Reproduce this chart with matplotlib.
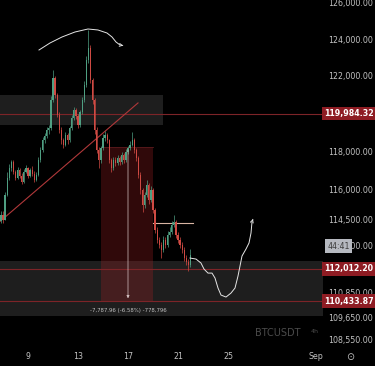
import matplotlib
matplotlib.use("Agg")
import matplotlib.pyplot as plt
import matplotlib.transforms as mtransforms
from matplotlib.ticker import NullLocator
import numpy as np

# 4h candles, x = day of August (Sep 1 -> 32)
start_day = 6.8333
first_open = 114400
closes = [114740, 114490, 115760, 116630, 117140, 117450, 116940, 116630, 117040, 116730,
          116420, 116940, 117140, 116730, 117040, 116830, 116520, 116780, 117560, 118080,
          118590, 118800, 119120, 119220, 120710, 121890, 120970, 119910, 119120, 118590,
          118330, 118850, 118590, 119220, 119760, 120180, 119860, 119380, 120070, 120710,
          121510, 122860, 123520, 121780, 120710, 119120, 118080, 117560, 118180, 118700,
          118850, 118590, 117560, 117140, 117560, 117400, 117660, 117450, 117820, 117560,
          117970, 118180, 118330, 118590, 118080, 117660, 116780, 116010, 115250, 115760,
          116270, 115500, 116010, 114990, 113980, 113480, 113230, 112980, 113480, 113230,
          113730, 113880, 114230, 114390, 113730, 113480, 113230, 112980, 112580, 112380,
          112190, 112730]
highs = [114900, 114900, 115900, 116900, 117350, 117560, 117520, 117050, 117200, 117150,
         116850, 117100, 117300, 117200, 117150, 117250, 116950, 116900, 117700, 118200,
         118750, 118950, 119300, 119400, 120900, 122320, 122000, 121100, 120050, 119250,
         118700, 119000, 118950, 119350, 119900, 120350, 120300, 119950, 120200, 120850,
         121700, 123100, 124500, 123700, 121900, 120800, 119250, 118200, 118300, 118900,
         119050, 118950, 118650, 117650, 117700, 117700, 117800, 117750, 117950, 117900,
         118100, 118300, 118550, 119010, 118700, 118150, 117750, 116900, 116100, 115900,
         116500, 116350, 116200, 116100, 115100, 114100, 113600, 113350, 113650, 113600,
         113900, 114100, 114400, 114740, 114450, 113850, 113600, 113350, 113100, 112700,
         112500, 113000]
lows = [114300, 114290, 114450, 115700, 116500, 117000, 116800, 116500, 116550, 116600,
        116300, 116350, 116850, 116600, 116650, 116700, 116400, 116450, 116700, 117450,
        117950, 118450, 118700, 118900, 119100, 120600, 120800, 119800, 118950, 118400,
        118150, 118250, 118400, 118500, 119100, 119650, 119700, 119200, 119300, 119950,
        120600, 121400, 122700, 121600, 120500, 118900, 117900, 117140, 117400, 118050,
        118550, 118450, 117400, 116940, 117050, 117250, 117300, 117300, 117350, 117400,
        117450, 117850, 118050, 118250, 117900, 117500, 116600, 115800, 114890, 115100,
        115650, 115300, 115400, 114800, 113800, 113300, 113050, 112580, 112850, 113050,
        113100, 113600, 113750, 114100, 113550, 113300, 113050, 112800, 112400, 112200,
        111890, 112100]

# price levels and drawings
level_lines = [119984.32, 112012.20, 110433.87]
upper_zone = (6.5, 19.8, 119380, 121000)
lower_zone = (6.5, 33.0, 109700, 112384)
short_box = (14.84, 19.0, 110433.87, 118221.83)
measure_day = 17.0
measure_text = "-7,787.96 (-6.58%) -778,796"
trend_days = [6.5, 17.8]
trend_prices = [114250, 120550]
flat_days = [19.0, 22.2]
flat_price = 114330
arc_days = [9.88, 10.76, 11.72, 12.76, 13.80, 14.60, 15.32, 15.72, 16.04, 16.36, 16.84]
arc_prices = [123407, 123790, 124119, 124394, 124559, 124504, 124338, 124119, 123845, 123680, 123625]
path_days = [21.96, 22.44, 22.84, 23.08, 23.40, 23.72, 23.96, 24.20, 24.44, 24.84, 25.24,
             25.56, 25.80, 25.96, 26.12, 26.44, 26.68, 26.84, 26.92, 27.0]
path_prices = [112556, 112505, 112306, 112008, 111809, 111809, 111565, 111072, 110728, 110630,
               110826, 111072, 111663, 112159, 112657, 113006, 113306, 113808, 114365, 114520]

ytick_vals = [126000, 124000, 122000, 118000, 116000, 114500, 113200, 110850, 109650, 108550]
xtick_vals = [9, 13, 17, 21, 25, 32]
xtick_labels = ["9", "13", "17", "21", "25", "Sep"]

UP = "#4f9f82"
DOWN = "#cf4a43"
TXT = "#c2c2c2"

fig = plt.figure(figsize=(3.75, 3.66), dpi=100, facecolor="black")
ax = fig.add_axes([0, 20 / 366, 322 / 375, 346 / 366])
ax.set_facecolor("black")
ax.set_yscale("log")
ax.set_ylim(108260, 126167)
ax.set_xlim(6.76, 32.52)

# zones
ax.fill_between(upper_zone[:2], upper_zone[2], upper_zone[3], color="#1e1e1e", lw=0, zorder=0)
ax.fill_between(lower_zone[:2], lower_zone[2], lower_zone[3], color="#1e1e1e", lw=0, zorder=0)
ax.fill_between(short_box[:2], short_box[2], short_box[3], color="#a01e24", alpha=0.3, lw=0, zorder=1)
ax.plot(short_box[:2], [short_box[3]] * 2, color="#5a1a1d", lw=0.6, zorder=1)

for lv in level_lines:
    ax.axhline(lv, color="#7d2428", lw=0.8, zorder=1)

ax.plot(trend_days, trend_prices, color="#b0383a", lw=0.8, zorder=2)
ax.plot(flat_days, [flat_price] * 2, color="#d9b5a3", lw=0.8, zorder=2)

# candles
n = len(closes)
days = start_day + np.arange(n) / 6
opens = [first_open] + closes[:-1]
cols = [UP if c >= o else DOWN for o, c in zip(opens, closes)]
ax.vlines(days, lows, highs, colors=cols, lw=0.5, zorder=3)
bottoms = np.minimum(opens, closes)
heights = np.maximum(np.abs(np.array(closes) - np.array(opens)), 15)
ax.bar(days, heights, bottom=bottoms, width=0.1, color=cols, lw=0, zorder=3)

# measure arrow
ax.annotate("", xy=(measure_day, short_box[2]), xytext=(measure_day, short_box[3]),
            arrowprops=dict(arrowstyle="-|>", lw=0.5, color="#d6c4c4", mutation_scale=4),
            zorder=4)
ax.text(measure_day, 109960, measure_text, color=TXT, fontsize=3.9, ha="center",
        va="center", zorder=5)

# hand drawn paths
ax.plot(arc_days[:-1], arc_prices[:-1], color="#e6e6e6", lw=0.7, zorder=5)
ax.annotate("", xy=(arc_days[-1], arc_prices[-1]), xytext=(arc_days[-2], arc_prices[-2]),
            arrowprops=dict(arrowstyle="->", lw=0.7, color="#e6e6e6", mutation_scale=5))
ax.plot(path_days[:-1], path_prices[:-1], color="#e6e6e6", lw=0.7, zorder=5)
ax.annotate("", xy=(path_days[-1], path_prices[-1]), xytext=(path_days[-2], path_prices[-2]),
            arrowprops=dict(arrowstyle="->", lw=0.7, color="#e6e6e6", mutation_scale=5))

# watermark
ax.text(27.2, 108900, "BTCUSDT", color="#4b4b4b", fontsize=7, ha="left", va="center")
ax.text(31.6, 108940, "4h", color="#4b4b4b", fontsize=4.5, ha="left", va="center")

# axes
for s in ax.spines.values():
    s.set_visible(False)
ax.yaxis.tick_right()
ax.set_yticks(ytick_vals)
ax.set_yticklabels([f"{v:,.2f}" for v in ytick_vals])
ax.yaxis.set_minor_locator(NullLocator())
ax.set_xticks(xtick_vals)
ax.set_xticklabels(xtick_labels)
ax.tick_params(axis="y", length=0, pad=4.5, labelsize=5.7, labelcolor=TXT)
ax.tick_params(axis="x", length=0, pad=4.5, labelsize=5.7, labelcolor=TXT)

trans = mtransforms.blended_transform_factory(ax.transAxes, ax.transData)
for lv in level_lines:
    ax.text(1.006, lv, f"{lv:,.2f}", transform=trans, color="white", fontsize=5.7,
            fontweight="bold", ha="left", va="center", clip_on=False, zorder=10,
            bbox=dict(boxstyle="square,pad=0.3", fc="#8e1c23", ec="none"))
ax.text(1.016, 113150, "44:41", transform=trans, color="#3c3c3c", fontsize=5.7,
        ha="left", va="center", clip_on=False, zorder=10,
        bbox=dict(boxstyle="square,pad=0.3", fc="#b6b9c0", ec="none"))

fig.text(350 / 375, 1 - 357 / 366, "\u2299", color=TXT, fontsize=7, ha="center", va="center")

fig.savefig("out.png", dpi=100, facecolor="black")
